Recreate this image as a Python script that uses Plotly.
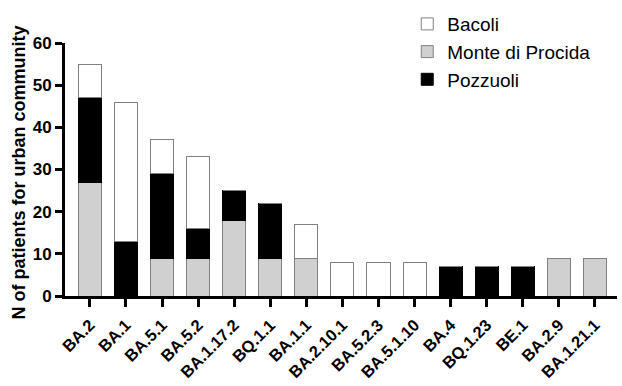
import plotly.graph_objects as go

categories = ["BA.2", "BA.1", "BA.5.1", "BA.5.2", "BA.1.17.2", "BQ.1.1", "BA.1.1",
              "BA.2.10.1", "BA.5.2.3", "BA.5.1.10", "BA.4", "BQ.1.23", "BE.1",
              "BA.2.9", "BA.1.21.1"]
monte_di_procida = [27, 0, 9, 9, 18, 9, 9, 0, 0, 0, 0, 0, 0, 9, 9]
pozzuoli = [20, 13, 20, 7, 7, 13, 0, 0, 0, 0, 7, 7, 7, 0, 0]
bacoli = [8, 33, 8, 17, 0, 0, 8, 8, 8, 8, 0, 0, 0, 0, 0]
y_ticks = [0, 10, 20, 30, 40, 50, 60]

FONT = "Liberation Sans, Arial, sans-serif"

fig = go.Figure()
fig.add_trace(go.Bar(x=categories, y=monte_di_procida, name="Monte di Procida",
                     marker=dict(color="#d0d0d0", line=dict(color="#808080", width=1)),
                     legendgroup="m", legendrank=2))
fig.add_trace(go.Bar(x=categories, y=pozzuoli, name="Pozzuoli",
                     marker=dict(color="#000000", line=dict(color="#000000", width=1)),
                     legendgroup="p", legendrank=3))
fig.add_trace(go.Bar(x=categories, y=bacoli, name="Bacoli",
                     marker=dict(color="#ffffff", line=dict(color="#808080", width=1)),
                     legendgroup="b", legendrank=1))

fig.update_layout(
    barmode="stack",
    bargap=0.36,
    width=622, height=386,
    margin=dict(l=65, r=5, t=38, b=90),
    paper_bgcolor="white", plot_bgcolor="white",
    font=dict(family=FONT, color="black"),
    legend=dict(x=0.62, y=1.15, xanchor="left", yanchor="top",
                traceorder="grouped", tracegroupgap=0,
                font=dict(size=19, family=FONT),
                bgcolor="rgba(0,0,0,0)"),
    annotations=[dict(text="<b>N of patients for urban community</b>", textangle=-90,
                      xref="paper", yref="paper", x=-0.085, y=0.5, yshift=-3,
                      xanchor="center", yanchor="middle", showarrow=False,
                      font=dict(size=18, family=FONT, color="black"))],
)
fig.update_xaxes(
    range=[-0.69, 14.61], automargin=False,
    showline=True, linecolor="black", linewidth=3,
    ticks="outside", ticklen=8, tickwidth=3, tickcolor="black",
    tickangle=-45, ticklabelstandoff=2,
    tickfont=dict(size=16.5, family=FONT, color="black", weight="bold"),
    showgrid=False, zeroline=False,
)
fig.update_yaxes(
    range=[0, 60], tickvals=y_ticks, automargin=False,
    showline=True, linecolor="black", linewidth=3,
    ticks="outside", ticklen=7, tickwidth=3, tickcolor="black",
    tickfont=dict(size=17, family=FONT, color="black", weight="bold"),
    showgrid=False, zeroline=False,
)

fig.write_html("out.html")
